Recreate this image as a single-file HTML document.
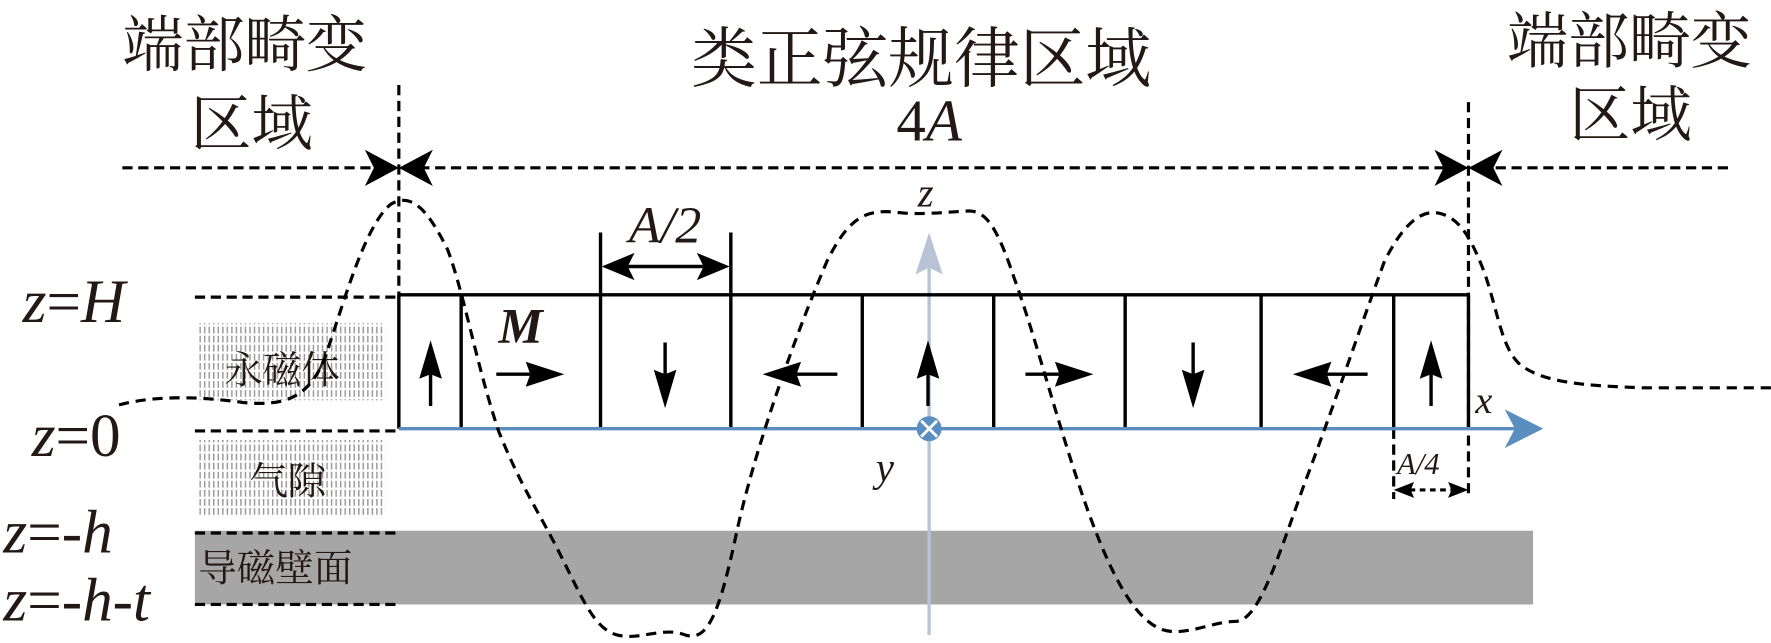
<!DOCTYPE html>
<html><head><meta charset="utf-8"><style>
html,body{margin:0;padding:0;background:#fff;}
svg{display:block;}
.cn{font-family:"Liberation Serif","Noto Serif CJK SC","Noto Sans CJK SC",serif;fill:#231815;}
.it{font-family:"Liberation Serif",serif;font-style:italic;fill:#231815;}
</style></head><body>
<svg width="1771" height="643" viewBox="0 0 1563 567" preserveAspectRatio="none" xmlns="http://www.w3.org/2000/svg">
<defs>
<pattern id="st" width="4" height="8" patternUnits="userSpaceOnUse">
<rect x="0" y="0" width="1.3" height="6" fill="#9a9a9a"/>
</pattern>
</defs>
<text class="cn" x="108" y="58" font-size="54">端部畸变</text>
<text class="cn" x="168" y="128" font-size="54">区域</text>
<text class="cn" x="610" y="72" font-size="58">类正弦规律区域</text>
<text x="820" y="124" font-size="52" text-anchor="middle" font-family="Liberation Serif" fill="#231815">4<tspan font-style="italic">A</tspan></text>
<text class="cn" x="1330" y="55" font-size="54">端部畸变</text>
<text class="cn" x="1385" y="120" font-size="54">区域</text>

<rect x="174" y="285" width="166" height="68" fill="url(#st)"/>
<rect x="174" y="388" width="166" height="68" fill="url(#st)"/>
<text class="cn" x="198" y="338" font-size="34">永磁体</text>
<text class="cn" x="220" y="436" font-size="34">气隙</text>
<rect x="172" y="468" width="1181" height="65" fill="#a6a6a6"/>
<text class="cn" x="175" y="513" font-size="34">导磁壁面</text>

<text class="it" x="20" y="284" font-size="54">z<tspan font-style="normal">=</tspan>H</text>
<text class="it" x="28" y="402" font-size="54">z<tspan font-style="normal">=0</tspan></text>
<text class="it" x="3" y="487" font-size="54">z<tspan font-style="normal">=</tspan>-h</text>
<text class="it" x="3" y="547" font-size="54">z<tspan font-style="normal">=</tspan>-h-t</text>

<g stroke="#000" stroke-width="2.8" stroke-dasharray="9,5" fill="none">
<line x1="172" y1="262" x2="352" y2="262"/>
<line x1="172" y1="380" x2="352" y2="380"/>
<line x1="172" y1="470" x2="352" y2="470"/>
<line x1="172" y1="533" x2="352" y2="533"/>
<line x1="108" y1="148" x2="330" y2="148"/>
<line x1="370" y1="148" x2="1280" y2="148"/>
<line x1="1320" y1="148" x2="1530" y2="148"/>
<line x1="352" y1="75" x2="352" y2="262"/>
<line x1="1296" y1="90" x2="1296" y2="440"/>
<line x1="1230" y1="378" x2="1230" y2="440"/>
<line x1="1244" y1="432" x2="1282" y2="432" stroke-dasharray="5,4"/>
</g>
<g fill="#000">
<path d="M352 148 L322 132 L330 148 L322 164 Z"/>
<path d="M352 148 L382 132 L374 148 L382 164 Z"/>
<path d="M1296 148 L1266 132 L1274 148 L1266 164 Z"/>
<path d="M1296 148 L1326 132 L1318 148 L1326 164 Z"/>
<path d="M1230 432 L1248 425 L1245 432 L1248 439 Z"/>
<path d="M1296 432 L1278 425 L1281 432 L1278 439 Z"/>
</g>

<line x1="820" y1="225" x2="820" y2="560" stroke="#b8c4d6" stroke-width="3"/>
<path d="M820 205 L808 242 L820 236 L832 242 Z" fill="#b8c4d6"/>

<g stroke="#000" stroke-width="3" fill="none">
<line x1="352" y1="260" x2="1296" y2="260"/>
<line x1="352" y1="260" x2="352" y2="378"/>
<line x1="407" y1="260" x2="407" y2="378"/>
<line x1="530" y1="205" x2="530" y2="378"/>
<line x1="645" y1="205" x2="645" y2="378"/>
<line x1="761" y1="260" x2="761" y2="378"/>
<line x1="877" y1="260" x2="877" y2="378"/>
<line x1="993" y1="260" x2="993" y2="378"/>
<line x1="1113" y1="260" x2="1113" y2="378"/>
<line x1="1230" y1="260" x2="1230" y2="378"/>
<line x1="1296" y1="260" x2="1296" y2="378"/>
<line x1="545" y1="235" x2="630" y2="235"/>
</g>
<g fill="#000">
<path d="M531 235 L560 223 L554 235 L560 247 Z"/>
<path d="M644 235 L615 223 L621 235 L615 247 Z"/>
</g>
<text class="it" x="587" y="214" font-size="46" text-anchor="middle">A/2</text>
<text x="440" y="302" font-size="44" font-family="Liberation Serif" font-style="italic" font-weight="bold" fill="#231815">M</text>

<g stroke="#000" stroke-width="3" fill="#000">
<g transform="translate(380,330)"><line x1="0" y1="0" x2="0" y2="28"/><path d="M0 -30 L-10 4 L0 0 L10 4 Z" stroke="none"/></g>
<g transform="translate(468,330)"><line x1="-30" y1="0" x2="0" y2="0"/><path d="M30 0 L-4 -11 L0 0 L-4 11 Z" stroke="none"/></g>
<g transform="translate(587,330)"><line x1="0" y1="-28" x2="0" y2="0"/><path d="M0 30 L-10 -4 L0 0 L10 -4 Z" stroke="none"/></g>
<g transform="translate(703,330)"><line x1="0" y1="0" x2="36" y2="0"/><path d="M-30 0 L4 -11 L0 0 L4 11 Z" stroke="none"/></g>
<g transform="translate(819,330)"><line x1="0" y1="0" x2="0" y2="28"/><path d="M0 -30 L-10 4 L0 0 L10 4 Z" stroke="none"/></g>
<g transform="translate(935,330)"><line x1="-30" y1="0" x2="0" y2="0"/><path d="M30 0 L-4 -11 L0 0 L-4 11 Z" stroke="none"/></g>
<g transform="translate(1053,330)"><line x1="0" y1="-28" x2="0" y2="0"/><path d="M0 30 L-10 -4 L0 0 L10 -4 Z" stroke="none"/></g>
<g transform="translate(1171,330)"><line x1="0" y1="0" x2="36" y2="0"/><path d="M-30 0 L4 -11 L0 0 L4 11 Z" stroke="none"/></g>
<g transform="translate(1263,330)"><line x1="0" y1="0" x2="0" y2="28"/><path d="M0 -30 L-10 4 L0 0 L10 4 Z" stroke="none"/></g>
</g>

<line x1="352" y1="378" x2="1340" y2="378" stroke="#5b8ec0" stroke-width="3"/>
<path d="M1362 378 L1328 361 L1337 378 L1328 395 Z" fill="#5b8ec0"/>
<circle cx="820" cy="378" r="11" fill="#5b8ec0"/>
<g stroke="#fff" stroke-width="2.5"><line x1="813" y1="371" x2="827" y2="385"/><line x1="827" y1="371" x2="813" y2="385"/></g>
<text class="it" x="1302" y="364" font-size="34">x</text>
<text class="it" x="773" y="424" font-size="36">y</text>
<text class="it" x="810" y="182" font-size="36">z</text>
<text class="it" x="1233" y="418" font-size="27">A/4</text>

<path d="M105 357 C140 348 180 350 215 355 C250 358 270 352 285 320 C300 280 320 200 345 180 C365 168 380 190 395 220 C410 260 420 320 440 380 C460 430 475 450 495 490 C515 530 525 555 545 560 C565 565 585 552 605 560 C625 566 635 540 650 470 C665 400 700 300 730 230 C750 190 765 185 790 187 C810 190 835 187 855 186 C870 186 880 200 895 245 C915 300 935 380 960 450 C980 505 1000 545 1025 555 C1045 562 1070 548 1090 548 C1110 548 1125 500 1150 430 C1180 350 1200 290 1222 230 C1240 195 1255 185 1270 188 C1290 192 1300 215 1310 240 C1322 275 1325 305 1340 320 C1360 338 1400 340 1450 342 L1565 342" fill="none" stroke="#000" stroke-width="2.8" stroke-dasharray="9,6"/>
</svg>
</body></html>
